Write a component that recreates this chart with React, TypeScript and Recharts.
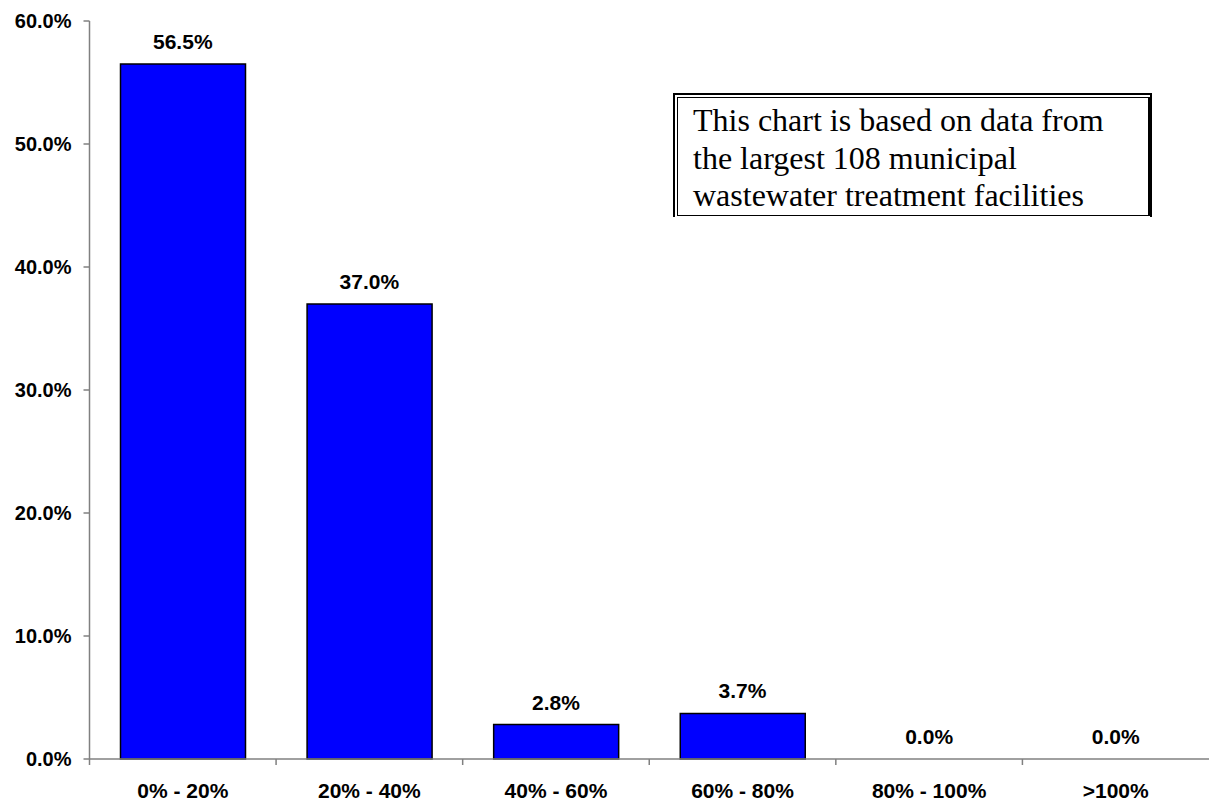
import React from 'react';
import { ComposedChart, Bar, Line, XAxis, YAxis, LabelList } from 'recharts';

const categories = ['0% - 20%', '20% - 40%', '40% - 60%', '60% - 80%', '80% - 100%', '>100%'];
const shares = [56.5, 37.0, 2.8, 3.7, 0.0, 0.0];
const yTicks = [0, 10, 20, 30, 40, 50, 60];
const noteLines = [
  'This chart is based on data from',
  'the largest 108 municipal',
  'wastewater treatment facilities',
];

const data = categories.map((c, i) => ({ category: c, share: shares[i] }));

const W = 1209;
const H = 804;
const margin = { top: 21, right: 0, left: 0, bottom: 0 };
const Y_AXIS_W = 89.5;
const X_AXIS_H = 45;
const AXIS_COLOR = '#808080';
const FONT = 'Arial, "Liberation Sans", Helvetica, sans-serif';

const fmt = (v: number) => `${Number(v).toFixed(1)}%`;

const XTick = (props: any) => {
  const { x, y, payload } = props;
  const fallback = (W - Y_AXIS_W - margin.left - margin.right) / categories.length / 2;
  const half = payload && payload.offset ? payload.offset : fallback;
  return (
    <g>
      <line x1={x - half} y1={y} x2={x - half} y2={y + 6} stroke={AXIS_COLOR} strokeWidth={1.5} />
      <text
        x={x}
        y={y + 39}
        textAnchor="middle"
        fill="#000"
        fontFamily={FONT}
        fontWeight="bold"
        fontSize={21}
      >
        {payload.value}
      </text>
    </g>
  );
};

export default function App() {
  return (
    <div style={{ position: 'absolute', left: 0, top: 0, width: W, height: H, background: '#fff' }}>
      <ComposedChart width={W} height={H} data={data} margin={margin}>
        <XAxis
          dataKey="category"
          height={X_AXIS_H}
          axisLine={{ stroke: AXIS_COLOR, strokeWidth: 1.5 }}
          tickLine={false}
          tickSize={0}
          tickMargin={0}
          interval={0}
          tick={<XTick />}
        />
        <YAxis
          width={Y_AXIS_W}
          domain={[0, 60]}
          ticks={yTicks}
          interval={0}
          tickFormatter={fmt}
          axisLine={{ stroke: AXIS_COLOR, strokeWidth: 1.5 }}
          tickLine={{ stroke: AXIS_COLOR, strokeWidth: 1.5 }}
          tickSize={6}
          tickMargin={12}
          tick={{ fill: '#000', fontFamily: FONT, fontWeight: 'bold', fontSize: 20 }}
        />
        <Bar
          dataKey="share"
          fill="#0000FF"
          stroke="#000"
          strokeWidth={1.5}
          barSize={125}
          isAnimationActive={false}
        />
        <Line
          dataKey="share"
          stroke="none"
          dot={false}
          activeDot={false}
          legendType="none"
          isAnimationActive={false}
        >
          <LabelList
            dataKey="share"
            position="top"
            offset={15}
            formatter={(v: any) => fmt(v)}
            fill="#000"
            fontFamily={FONT}
            fontWeight="bold"
            fontSize={21}
          />
        </Line>
      </ComposedChart>
      <div
        style={{
          position: 'absolute',
          left: 673,
          top: 93,
          width: 479,
          height: 124,
          boxSizing: 'border-box',
          borderTop: '2px solid #000',
          borderLeft: '2px solid #000',
          borderRight: '2px solid #000',
          background: '#fff',
        }}
      >
        <div
          style={{
            position: 'absolute',
            left: 1.5,
            top: 2,
            right: 0,
            bottom: 1,
            boxSizing: 'border-box',
            border: '1px solid #000',
            borderRight: '2px solid #000',
            padding: '4px 0 0 15.5px',
            fontFamily: '"Times New Roman", "Liberation Serif", Times, serif',
            fontSize: 32,
            lineHeight: '37.5px',
            color: '#000',
            whiteSpace: 'nowrap',
          }}
        >
          {noteLines.map((l) => (
            <div key={l}>{l}</div>
          ))}
        </div>
      </div>
    </div>
  );
}
